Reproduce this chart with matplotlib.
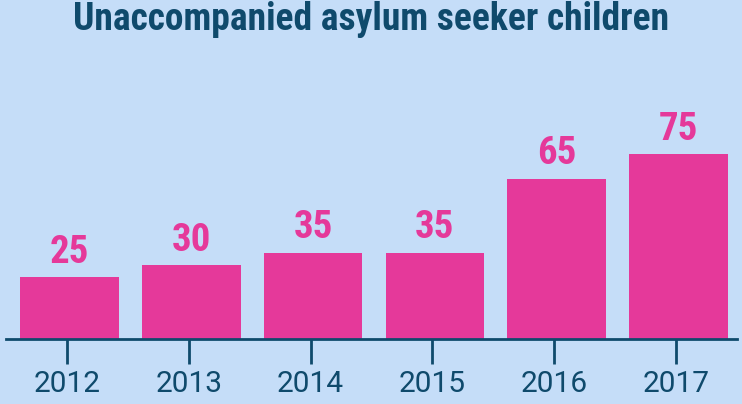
import numpy as np
import matplotlib
matplotlib.use("Agg")
import matplotlib.pyplot as plt
from matplotlib import font_manager

years = ["2012", "2013", "2014", "2015", "2016", "2017"]
children = [25, 30, 35, 35, 65, 75]

bg = "#c5ddf8"
pink = "#e5399a"
navy = "#0f4a6c"

names = {f.name for f in font_manager.fontManager.ttflist}
cond = [n for n in ["Roboto Condensed", "Liberation Sans Narrow", "DejaVu Sans Condensed"]
        if n in names]
title_font = cond[0] if cond else "Roboto"

plt.rcParams["font.family"] = ["Roboto", "DejaVu Sans"]

fig = plt.figure(figsize=(7.42, 4.04), dpi=100, facecolor=bg)
ax = fig.add_axes([6 / 742, 1 - 339 / 404, 731 / 742, 279 / 404])
ax.set_facecolor(bg)

x = np.arange(len(years))
ax.bar(x + 0.02, children, width=0.81, color=pink, zorder=2)
for xi, v in zip(x, children):
    ax.text(xi + 0.02, v + 2.5, str(v), ha="center", va="bottom",
            fontsize=28, fontweight="bold", color=pink,
            family=[title_font, "DejaVu Sans"])

ax.set_xlim(-0.5, len(years) - 0.5)
ax.set_ylim(0, 113)
ax.set_xticks(x)
ax.set_xticklabels(years)
ax.set_yticks([])
for s in ["top", "right", "left"]:
    ax.spines[s].set_visible(False)
ax.spines["bottom"].set_color(navy)
ax.spines["bottom"].set_linewidth(2)
ax.spines["bottom"].set_zorder(3)
ax.tick_params(axis="x", length=18, width=2, color=navy, labelcolor=navy,
               labelsize=21.5, pad=4)

title_size = 27 if title_font != "Roboto" else 25
fig.text(0.5, 1 - 20 / 404, "Unaccompanied asylum seeker children",
         ha="center", va="center", fontsize=title_size, fontweight="bold",
         color=navy, family=[title_font, "DejaVu Sans"])

fig.savefig("out.png", dpi=100, facecolor=bg)
